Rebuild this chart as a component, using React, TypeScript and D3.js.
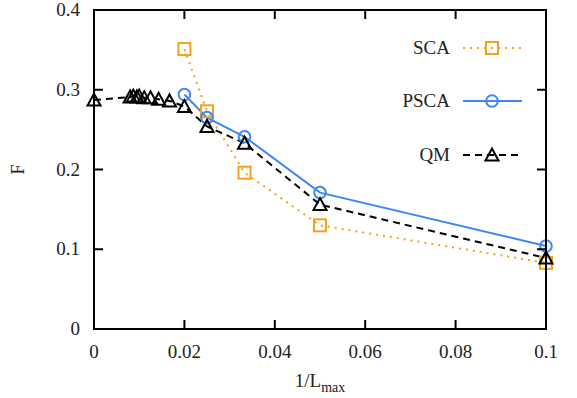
import React from "react";
import * as d3 from "d3";

const xTicks = [0, 0.02, 0.04, 0.06, 0.08, 0.1];
const xTickLabels = ["0", "0.02", "0.04", "0.06", "0.08", "0.1"];
const yTicks = [0, 0.1, 0.2, 0.3, 0.4];
const yTickLabels = ["0", "0.1", "0.2", "0.3", "0.4"];

const scaX = [0.02, 0.025, 0.0333, 0.05, 0.1];
const scaY = [0.351, 0.273, 0.196, 0.13, 0.083];

const pscaX = [0.02, 0.025, 0.0333, 0.05, 0.1];
const pscaY = [0.294, 0.265, 0.241, 0.171, 0.104];

const qmX = [0, 0.008, 0.0087, 0.0095, 0.01, 0.0111, 0.0125, 0.0143, 0.0167, 0.02, 0.025, 0.0333, 0.05, 0.1];
const qmY = [0.287, 0.291, 0.292, 0.291, 0.292, 0.29, 0.29, 0.288, 0.286, 0.279, 0.254, 0.233, 0.156, 0.089];

const ORANGE = "#f7a01c";
const BLUE = "#3d87f5";
const FONT = "Liberation Serif, Times New Roman, DejaVu Serif, serif";

const W = 577, H = 398;
const L = 94, R = 546, T = 10, B = 329;

export default function App() {
  const x = d3.scaleLinear().domain([0, 0.1]).range([L, R]);
  const y = d3.scaleLinear().domain([0, 0.4]).range([B, T]);
  const line = d3.line<[number, number]>().x(d => x(d[0])).y(d => y(d[1]));
  const sca = scaX.map((v, i) => [v, scaY[i]] as [number, number]);
  const psca = pscaX.map((v, i) => [v, pscaY[i]] as [number, number]);
  const qm = qmX.map((v, i) => [v, qmY[i]] as [number, number]);

  const tri = (cx: number, cy: number, k: string) => (
    <path key={k} d={`M${cx - 6.5},${cy + 5.5} L${cx},${cy - 6.5} L${cx + 6.5},${cy + 5.5} Z`} fill="none" stroke="#000" strokeWidth={2} />
  );
  const sq = (cx: number, cy: number, k: string) => (
    <rect key={k} x={cx - 6} y={cy - 6} width={12} height={12} fill="none" stroke={ORANGE} strokeWidth={2} />
  );
  const circ = (cx: number, cy: number, k: string) => (
    <circle key={k} cx={cx} cy={cy} r={5.8} fill="none" stroke={BLUE} strokeWidth={2} />
  );

  const legend = [
    { label: "SCA", y: 48, color: ORANGE, dash: "2,5", m: sq },
    { label: "PSCA", y: 101, color: BLUE, dash: "none", m: circ },
    { label: "QM", y: 155, color: "#000", dash: "7,5", m: tri },
  ];

  const txt = { fontFamily: FONT, fill: "#222" } as React.CSSProperties;

  return (
    <svg width={W} height={H} style={{ display: "block", position: "absolute", left: 0, top: 0, fontFamily: FONT }}>
      <rect width={W} height={H} fill="#fff" />
      <path d={line(sca) || ""} fill="none" stroke={ORANGE} strokeWidth={2} strokeDasharray="2,5" />
      <path d={line(psca) || ""} fill="none" stroke={BLUE} strokeWidth={2} />
      <path d={line(qm) || ""} fill="none" stroke="#000" strokeWidth={2} strokeDasharray="7,5" />
      {sca.map((d, i) => sq(x(d[0]), y(d[1]), "s" + i))}
      {psca.map((d, i) => circ(x(d[0]), y(d[1]), "c" + i))}
      {qm.map((d, i) => tri(x(d[0]), y(d[1]), "t" + i))}
      <rect x={L} y={T} width={R - L} height={B - T} fill="none" stroke="#000" strokeWidth={2} />
      {xTicks.map((t, i) => (
        <g key={"xt" + i}>
          {i > 0 && i < xTicks.length - 1 && (
            <>
              <line x1={x(t)} x2={x(t)} y1={B} y2={B - 9} stroke="#000" strokeWidth={2} />
              <line x1={x(t)} x2={x(t)} y1={T} y2={T + 9} stroke="#000" strokeWidth={2} />
            </>
          )}
          <text x={x(t)} y={B + 29} textAnchor="middle" fontSize={19} style={txt}>{xTickLabels[i]}</text>
        </g>
      ))}
      {yTicks.map((t, i) => (
        <g key={"yt" + i}>
          {i > 0 && i < yTicks.length - 1 && (
            <>
              <line x1={L} x2={L + 9} y1={y(t)} y2={y(t)} stroke="#000" strokeWidth={2} />
              <line x1={R} x2={R - 9} y1={y(t)} y2={y(t)} stroke="#000" strokeWidth={2} />
            </>
          )}
          <text x={L - 14} y={y(t) + 6} textAnchor="end" fontSize={19} style={txt}>{yTickLabels[i]}</text>
        </g>
      ))}
      <text x={320} y={387} textAnchor="middle" fontSize={19} style={txt}>
        1/L<tspan fontSize={14} dy={5}>max</tspan>
      </text>
      <text transform={`translate(24,${(T + B) / 2}) rotate(-90)`} textAnchor="middle" fontSize={19} style={txt}>F</text>
      {legend.map((l, i) => (
        <g key={"lg" + i}>
          <text x={450} y={l.y + 6} textAnchor="end" fontSize={19} style={txt}>{l.label}</text>
          <line x1={463} x2={522} y1={l.y} y2={l.y} stroke={l.color} strokeWidth={2} strokeDasharray={l.dash} />
          {l.m(492, l.y, "lm" + i)}
        </g>
      ))}
    </svg>
  );
}
